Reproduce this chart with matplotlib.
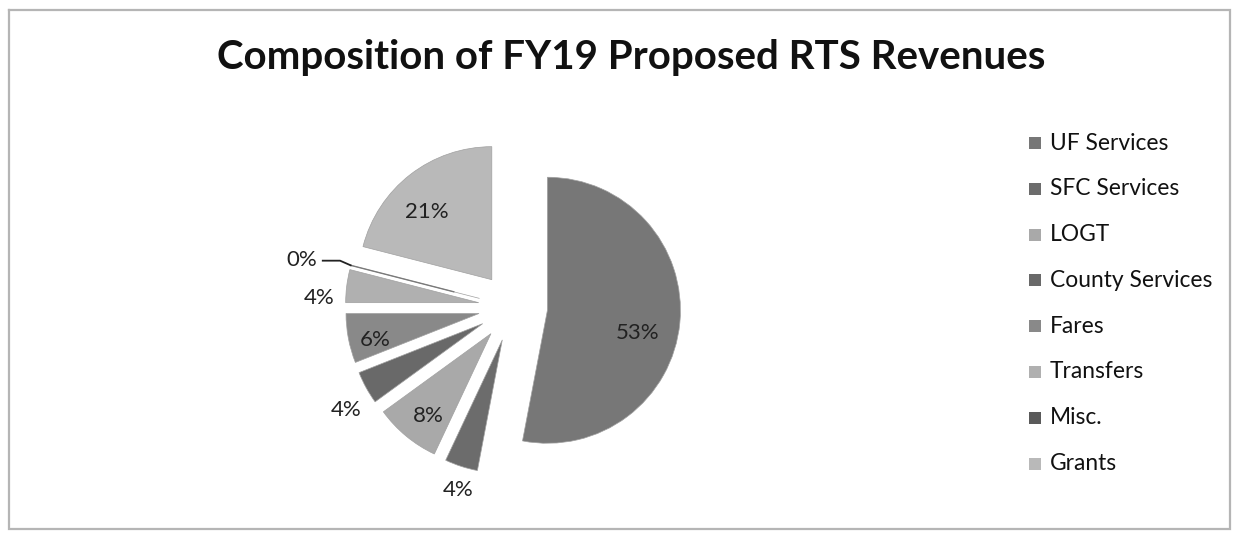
import matplotlib
matplotlib.use("Agg")
import matplotlib.pyplot as plt
from matplotlib.patches import Rectangle
import numpy as np

categories = ["UF Services", "SFC Services", "LOGT", "County Services",
              "Fares", "Transfers", "Misc.", "Grants"]
shares = [53, 4, 8, 4, 6, 4, 0, 21]
title = "Composition of FY19 Proposed RTS Revenues"

colors = ["#777777", "#6c6c6c", "#a9a9a9", "#696969",
          "#898989", "#b0b0b0", "#5a5a5a", "#b9b9b9"]
# label placement, offset from each (exploded) slice centre in radius units
label_offset = [(0.68, -0.17), (-0.33, -1.13), (-0.47, -0.62), (-1.03, -0.65),
                (-0.78, -0.20), (-1.20, 0.035), None, (-0.49, 0.51)]

plt.rcParams["font.family"] = ["Lato", "DejaVu Sans"]

W, H = 1236, 533
fig = plt.figure(figsize=(W / 100, H / 100), dpi=100)
fig.patch.set_facecolor("white")

# chart frame
frame = fig.add_axes([0, 0, 1, 1])
frame.set_xlim(0, W)
frame.set_ylim(H, 0)
frame.axis("off")
frame.plot([9, 9, 1230, 1230, 9], [10, 529, 529, 10, 10],
           color="#b5b5b5", lw=1.6, solid_joinstyle="miter")

frame.text(631, 58, title, ha="center", va="center",
           fontsize=29, fontweight="bold", color="#111111")

# pie
cx, cy, r = 513, 307, 133
half = 1.5 * r
ax = fig.add_axes([(cx - half) / W, 1 - (cy + half) / H, 2 * half / W, 2 * half / H])

explode = [0.26] * len(shares)
wedges, _ = ax.pie(shares, colors=colors, startangle=90, counterclock=False,
                   explode=explode, radius=1.0,
                   wedgeprops=dict(linewidth=0.5, edgecolor="#a0a0a0"))
ax.set_xlim(-1.5, 1.5)
ax.set_ylim(-1.5, 1.5)
ax.set_aspect("equal")
ax.axis("off")

for w, val, off in zip(wedges, shares, label_offset):
    x0, y0 = w.center
    if off is None:
        # zero-width slice: thin line and a leader to its label
        ang = np.deg2rad(w.theta1)
        ex, ey = x0 + np.cos(ang), y0 + np.sin(ang)
        ax.plot([x0 + 0.2 * np.cos(ang), ex], [y0 + 0.2 * np.sin(ang), ey],
                color="#7a7a7a", lw=1.0)
        ax.plot([ex, ex - 0.08, ex - 0.21], [ey, ey + 0.035, ey + 0.035],
                color="#222222", lw=1.3)
        ax.text(ex - 0.25, ey + 0.04, f"{val}%", ha="right", va="center",
                fontsize=16, color="#222222")
        continue
    ax.text(x0 + off[0], y0 + off[1], f"{val}%",
            ha="center", va="center", fontsize=16, color="#222222")

# legend
lx, ly0, dy = 1035, 143, 45.8
for i, (name, c) in enumerate(zip(categories, colors)):
    y = ly0 + i * dy
    frame.add_patch(Rectangle((lx - 6, y - 6), 12, 12, facecolor=c,
                              edgecolor="none"))
    frame.text(lx + 15, y, name, ha="left", va="center",
               fontsize=16.4, color="#111111")

fig.savefig("out.png", dpi=100)
